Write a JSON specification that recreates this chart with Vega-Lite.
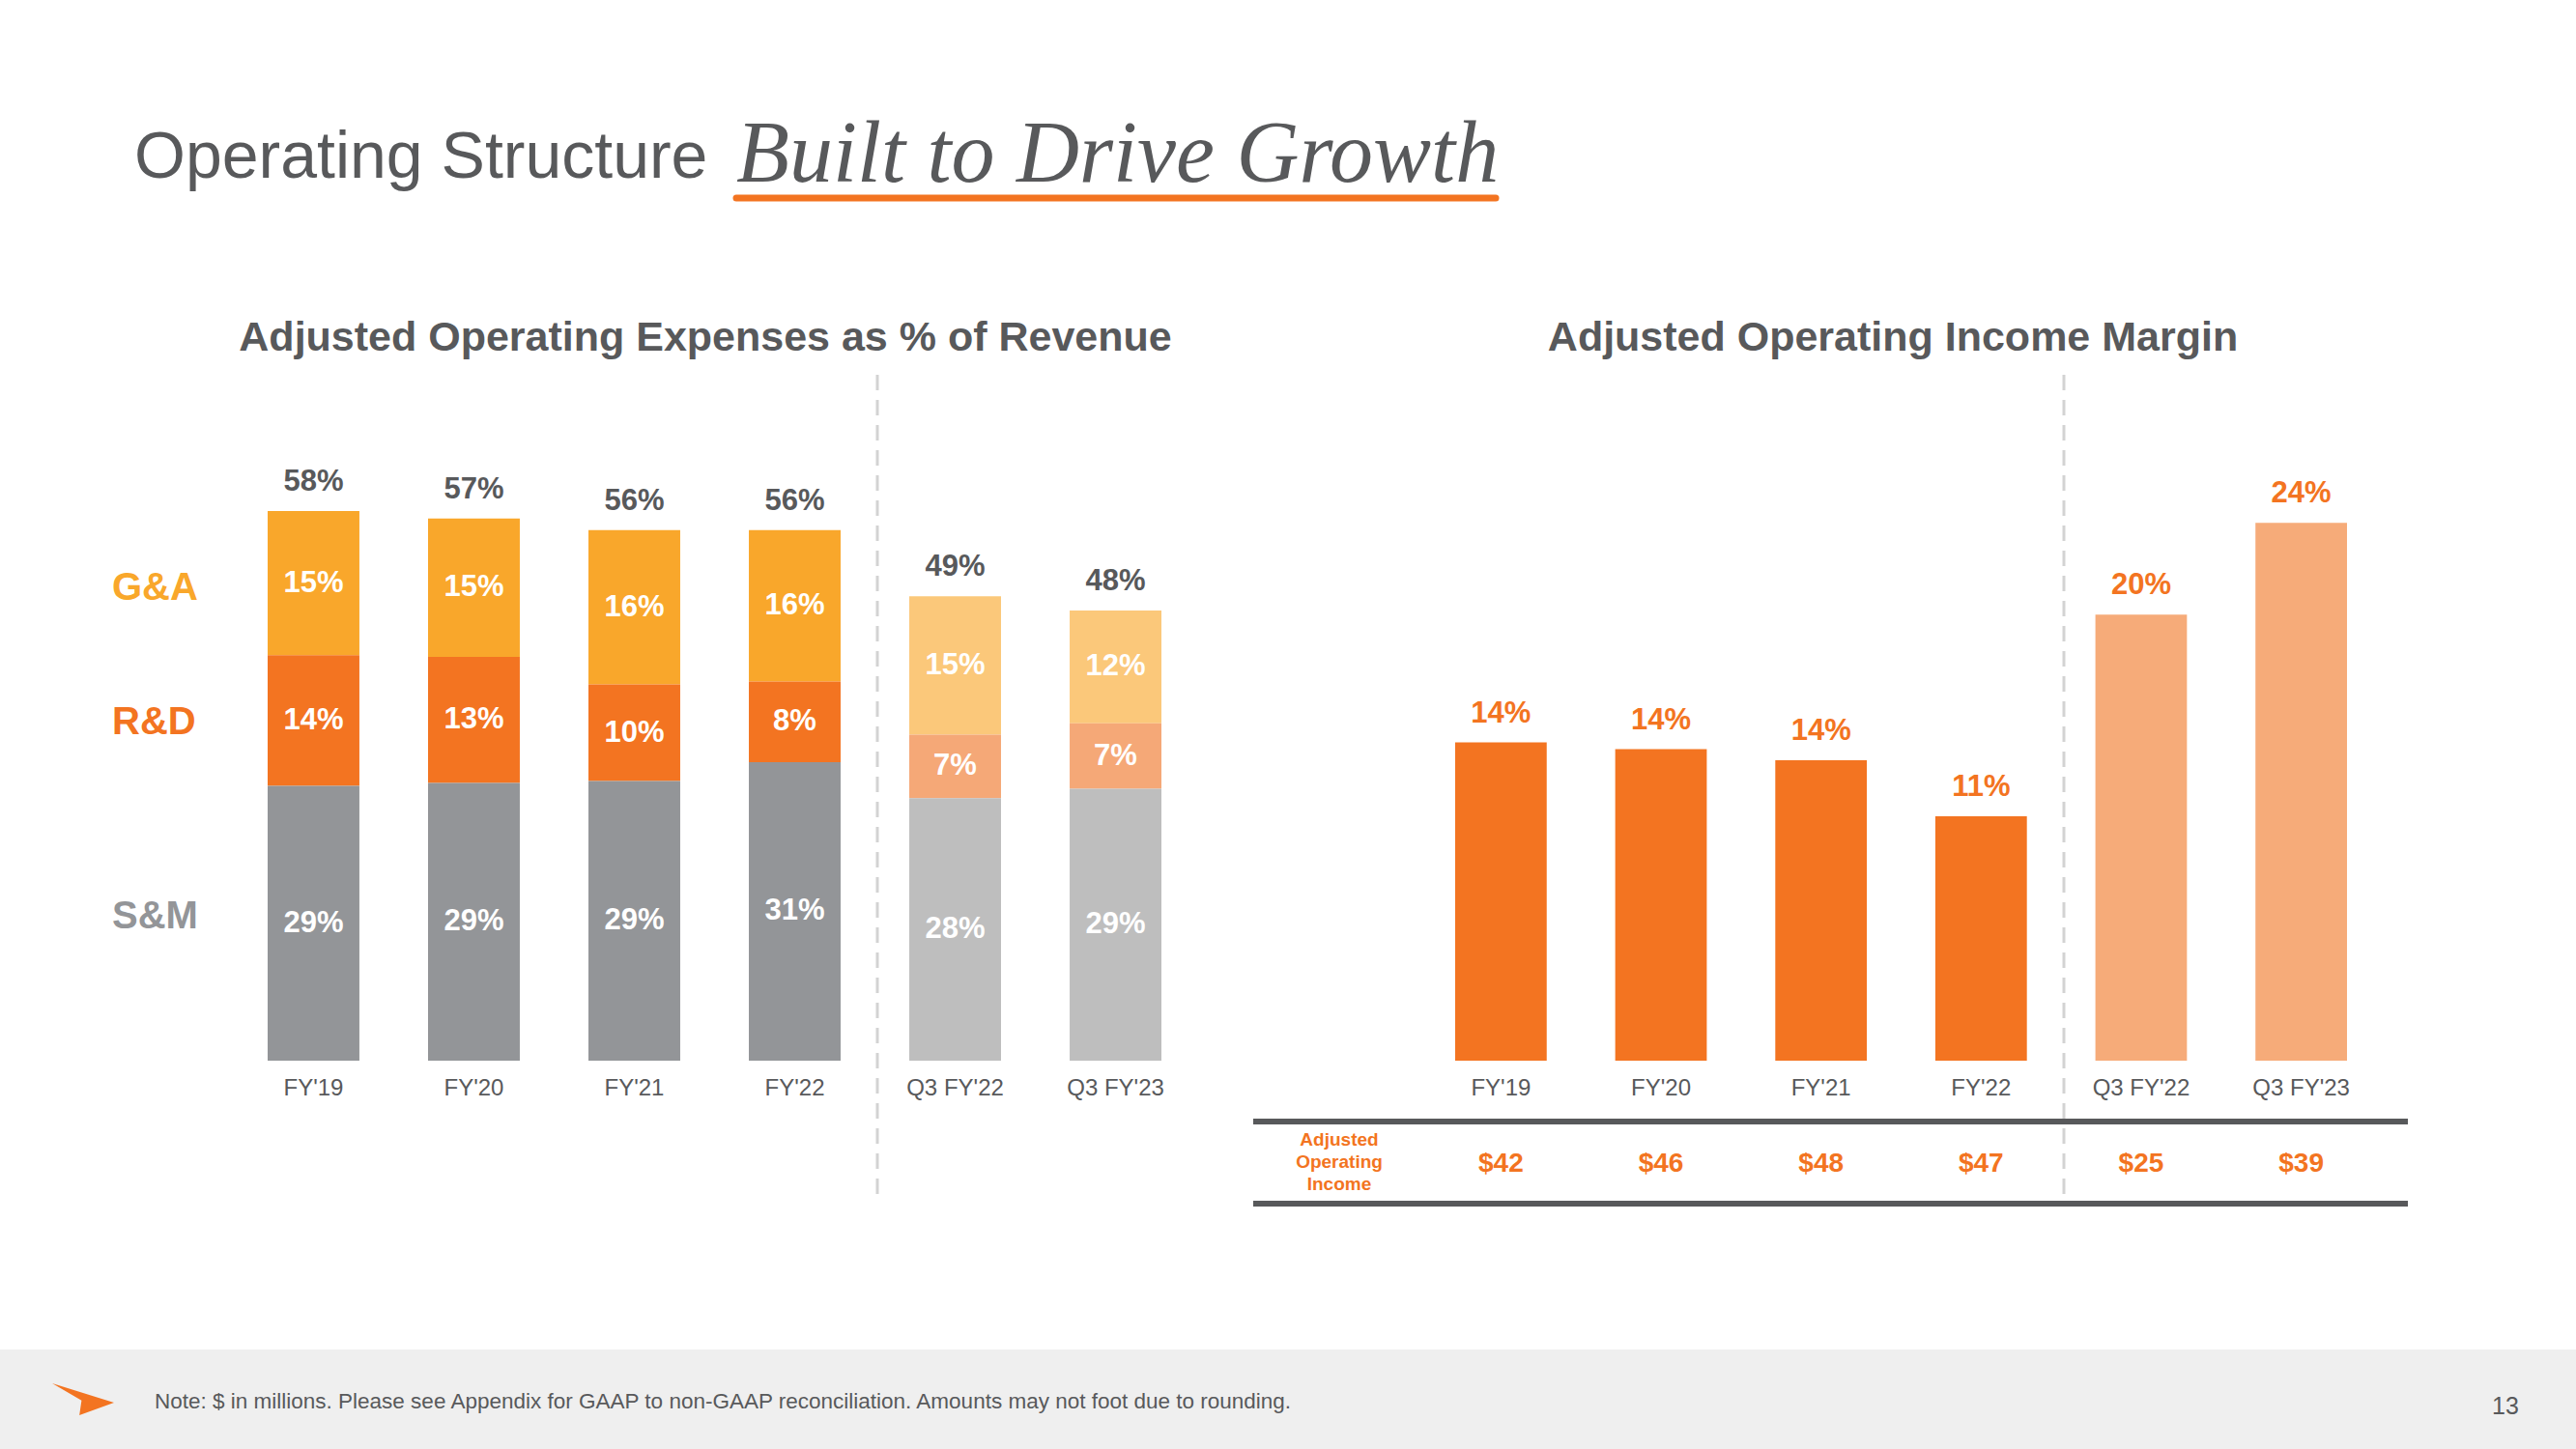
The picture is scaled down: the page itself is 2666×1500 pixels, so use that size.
{
  "$schema": "https://vega.github.io/schema/vega-lite/v6.json",
  "width": 2666,
  "height": 1500,
  "autosize": {"type": "fit", "contains": "padding"},
  "padding": 0,
  "background": "white",
  "config": {"view": {"stroke": null}, "font": "Liberation Sans"},
  "datasets": {
    "opex": [
      {"period": "FY'19", "cat": "G&A", "value": 15.2, "label": "15%", "total": "58%"},
      {"period": "FY'19", "cat": "R&D", "value": 13.8, "label": "14%", "total": "58%"},
      {"period": "FY'19", "cat": "S&M", "value": 29.0, "label": "29%", "total": "58%"},
      {"period": "FY'20", "cat": "G&A", "value": 14.6, "label": "15%", "total": "57%"},
      {"period": "FY'20", "cat": "R&D", "value": 13.3, "label": "13%", "total": "57%"},
      {"period": "FY'20", "cat": "S&M", "value": 29.3, "label": "29%", "total": "57%"},
      {"period": "FY'21", "cat": "G&A", "value": 16.3, "label": "16%", "total": "56%"},
      {"period": "FY'21", "cat": "R&D", "value": 10.2, "label": "10%", "total": "56%"},
      {"period": "FY'21", "cat": "S&M", "value": 29.5, "label": "29%", "total": "56%"},
      {"period": "FY'22", "cat": "G&A", "value": 16.0, "label": "16%", "total": "56%"},
      {"period": "FY'22", "cat": "R&D", "value": 8.5, "label": "8%", "total": "56%"},
      {"period": "FY'22", "cat": "S&M", "value": 31.5, "label": "31%", "total": "56%"},
      {"period": "Q3 FY'22", "cat": "G&A", "value": 14.6, "label": "15%", "total": "49%"},
      {"period": "Q3 FY'22", "cat": "R&D", "value": 6.7, "label": "7%", "total": "49%"},
      {"period": "Q3 FY'22", "cat": "S&M", "value": 27.7, "label": "28%", "total": "49%"},
      {"period": "Q3 FY'23", "cat": "G&A", "value": 11.9, "label": "12%", "total": "48%"},
      {"period": "Q3 FY'23", "cat": "R&D", "value": 6.9, "label": "7%", "total": "48%"},
      {"period": "Q3 FY'23", "cat": "S&M", "value": 28.7, "label": "29%", "total": "48%"}
    ],
    "margin": [
      {"period": "FY'19", "value": 14.2, "label": "14%", "income": "$42"},
      {"period": "FY'20", "value": 13.9, "label": "14%", "income": "$46"},
      {"period": "FY'21", "value": 13.4, "label": "14%", "income": "$48"},
      {"period": "FY'22", "value": 10.9, "label": "11%", "income": "$47"},
      {"period": "Q3 FY'22", "value": 19.9, "label": "20%", "income": "$25"},
      {"period": "Q3 FY'23", "value": 24.0, "label": "24%", "income": "$39"}
    ]
  },
  "layer": [
    {
      "data": {"values": [{}]},
      "mark": {"type": "rect", "fill": "#EFEFEF"},
      "encoding": {"x": {"value": 0}, "x2": {"value": 2666}, "y": {"value": 1397}, "y2": {"value": 1500}}
    },
    {
      "data": {"values": [{}]},
      "mark": {"type": "point", "filled": true, "fill": "#F37421", "opacity": 1, "strokeWidth": 0, "shape": "M -1 -0.53 L 1 0.09 L -0.12 0.5 L -0.05 0.02 Z", "size": 4096},
      "encoding": {"x": {"value": 86}, "y": {"value": 1449}}
    },
    {
      "data": {"values": [{}]},
      "mark": {"type": "text", "text": "Note: $ in millions. Please see Appendix for GAAP to non-GAAP reconciliation. Amounts may not foot due to rounding.", "align": "left", "baseline": "middle", "fontSize": 22.5, "fill": "#58595B"},
      "encoding": {"x": {"value": 160}, "y": {"value": 1451}}
    },
    {
      "data": {"values": [{}]},
      "mark": {"type": "text", "text": "13", "align": "center", "baseline": "middle", "fontSize": 25, "fill": "#58595B"},
      "encoding": {"x": {"value": 2593}, "y": {"value": 1456}}
    },
    {
      "data": {"values": [{}]},
      "mark": {"type": "text", "text": "Operating Structure", "align": "left", "baseline": "alphabetic", "fontSize": 68, "fill": "#58595B"},
      "encoding": {"x": {"value": 139}, "y": {"value": 184}}
    },
    {
      "data": {"values": [{}]},
      "mark": {"type": "text", "text": "Built to Drive Growth", "font": "Liberation Serif", "fontStyle": "italic", "align": "left", "baseline": "alphabetic", "fontSize": 90, "fill": "#58595B"},
      "encoding": {"x": {"value": 762}, "y": {"value": 188}}
    },
    {
      "data": {"values": [{}]},
      "mark": {"type": "rule", "stroke": "#F37421", "strokeWidth": 7, "strokeCap": "round"},
      "encoding": {"x": {"value": 762}, "x2": {"value": 1548}, "y": {"value": 205}}
    },
    {
      "data": {"values": [{}]},
      "mark": {"type": "text", "text": "Adjusted Operating Expenses as % of Revenue", "align": "center", "baseline": "alphabetic", "fontSize": 43, "fontWeight": "bold", "fill": "#58595B"},
      "encoding": {"x": {"value": 730}, "y": {"value": 363}}
    },
    {
      "data": {"values": [{}]},
      "mark": {"type": "text", "text": "Adjusted Operating Income Margin", "align": "center", "baseline": "alphabetic", "fontSize": 43, "fontWeight": "bold", "fill": "#58595B"},
      "encoding": {"x": {"value": 1959}, "y": {"value": 363}}
    },
    {
      "data": {"values": [{}]},
      "mark": {"type": "text", "text": "G&A", "align": "left", "baseline": "alphabetic", "fontSize": 40, "fontWeight": "bold", "fill": "#F9A72B"},
      "encoding": {"x": {"value": 116}, "y": {"value": 621}}
    },
    {
      "data": {"values": [{}]},
      "mark": {"type": "text", "text": "R&D", "align": "left", "baseline": "alphabetic", "fontSize": 40, "fontWeight": "bold", "fill": "#F37421"},
      "encoding": {"x": {"value": 116}, "y": {"value": 760}}
    },
    {
      "data": {"values": [{}]},
      "mark": {"type": "text", "text": "S&M", "align": "left", "baseline": "alphabetic", "fontSize": 40, "fontWeight": "bold", "fill": "#939598"},
      "encoding": {"x": {"value": 116}, "y": {"value": 961}}
    },
    {
      "data": {"values": [{}]},
      "mark": {"type": "rule", "stroke": "#D3D3D3", "strokeWidth": 3, "strokeDash": [16, 10]},
      "encoding": {"x": {"value": 908}, "y": {"value": 388}, "y2": {"value": 1246}}
    },
    {
      "data": {"values": [{}]},
      "mark": {"type": "rule", "stroke": "#D3D3D3", "strokeWidth": 3, "strokeDash": [16, 10]},
      "encoding": {"x": {"value": 2136}, "y": {"value": 388}, "y2": {"value": 1246}}
    },
    {
      "data": {"values": [{}]},
      "mark": {"type": "rule", "stroke": "#58595B", "strokeWidth": 6},
      "encoding": {"x": {"value": 1297}, "x2": {"value": 2492}, "y": {"value": 1161}}
    },
    {
      "data": {"values": [{}]},
      "mark": {"type": "rule", "stroke": "#58595B", "strokeWidth": 6},
      "encoding": {"x": {"value": 1297}, "x2": {"value": 2492}, "y": {"value": 1246}}
    },
    {
      "data": {"values": [{}]},
      "mark": {"type": "text", "text": ["Adjusted", "Operating", "Income"], "align": "center", "baseline": "middle", "lineHeight": 23, "fontSize": 19, "fontWeight": "bold", "fill": "#F37421"},
      "encoding": {"x": {"value": 1386}, "y": {"value": 1180}}
    },
    {
      "data": {"name": "opex"},
      "transform": [
        {"calculate": "indexof(datum.period, 'Q3') === 0 ? 'Q3' : 'FY'", "as": "kind"},
        {"calculate": "datum.cat + ' ' + datum.kind", "as": "key"},
        {"calculate": "indexof(['S&M', 'R&D', 'G&A'], datum.cat)", "as": "rank"}
      ],
      "encoding": {
        "x": {
          "field": "period", "type": "nominal", "axis": null,
          "scale": {"domain": ["FY'19", "FY'20", "FY'21", "FY'22", "Q3 FY'22", "Q3 FY'23"], "range": [277, 1202], "paddingInner": 0.428, "paddingOuter": 0}
        }
      },
      "layer": [
        {
          "mark": {"type": "bar"},
          "encoding": {
            "y": {"field": "value", "type": "quantitative", "stack": "zero", "axis": null, "scale": {"domain": [0, 60], "range": [1098, 509.4], "nice": false}},
            "color": {
              "field": "key", "type": "nominal", "legend": null,
              "scale": {
                "domain": ["G&A FY", "R&D FY", "S&M FY", "G&A Q3", "R&D Q3", "S&M Q3"],
                "range": ["#F9A72B", "#F37421", "#939598", "#FBC87A", "#F5A877", "#BEBEBE"]
              }
            },
            "order": {"field": "rank", "type": "quantitative"}
          }
        },
        {
          "transform": [
            {"stack": "value", "groupby": ["period"], "sort": [{"field": "rank", "order": "ascending"}], "as": ["v0", "v1"]},
            {"calculate": "(datum.v0 + datum.v1) / 2", "as": "mid"}
          ],
          "mark": {"type": "text", "align": "center", "baseline": "middle", "fontSize": 31, "fontWeight": "bold", "fill": "white"},
          "encoding": {
            "y": {"field": "mid", "type": "quantitative", "axis": null, "scale": {"domain": [0, 60], "range": [1098, 509.4], "nice": false}},
            "text": {"field": "label"}
          }
        },
        {
          "transform": [{"aggregate": [{"op": "sum", "field": "value", "as": "top"}], "groupby": ["period", "total"]}],
          "mark": {"type": "text", "align": "center", "baseline": "middle", "dy": -30, "fontSize": 31, "fontWeight": "bold", "fill": "#58595B"},
          "encoding": {
            "y": {"field": "top", "type": "quantitative", "axis": null, "scale": {"domain": [0, 60], "range": [1098, 509.4], "nice": false}},
            "text": {"field": "total"}
          }
        },
        {
          "transform": [{"aggregate": [], "groupby": ["period"]}],
          "mark": {"type": "text", "align": "center", "baseline": "middle", "fontSize": 24, "fill": "#58595B"},
          "encoding": {"y": {"value": 1127}, "text": {"field": "period"}}
        }
      ]
    },
    {
      "data": {"name": "margin"},
      "transform": [{"calculate": "indexof(datum.period, 'Q3') === 0 ? 'Q3' : 'FY'", "as": "kind"}],
      "encoding": {
        "x": {
          "field": "period", "type": "nominal", "axis": null,
          "scale": {"domain": ["FY'19", "FY'20", "FY'21", "FY'22", "Q3 FY'22", "Q3 FY'23"], "range": [1506, 2429], "paddingInner": 0.428, "paddingOuter": 0}
        }
      },
      "layer": [
        {
          "mark": {"type": "bar"},
          "encoding": {
            "y": {"field": "value", "type": "quantitative", "axis": null, "scale": {"domain": [0, 25], "range": [1098, 518], "nice": false}},
            "color": {"field": "kind", "type": "nominal", "legend": null, "scale": {"domain": ["FY", "Q3"], "range": ["#F37421", "#F6AB79"]}}
          }
        },
        {
          "mark": {"type": "text", "align": "center", "baseline": "middle", "dy": -30, "fontSize": 31, "fontWeight": "bold", "fill": "#F37421"},
          "encoding": {
            "y": {"field": "value", "type": "quantitative", "axis": null, "scale": {"domain": [0, 25], "range": [1098, 518], "nice": false}},
            "text": {"field": "label"}
          }
        },
        {
          "mark": {"type": "text", "align": "center", "baseline": "middle", "fontSize": 24, "fill": "#58595B"},
          "encoding": {"y": {"value": 1127}, "text": {"field": "period"}}
        },
        {
          "mark": {"type": "text", "align": "center", "baseline": "middle", "fontSize": 28, "fontWeight": "bold", "fill": "#F37421"},
          "encoding": {"y": {"value": 1205}, "text": {"field": "income"}}
        }
      ]
    }
  ],
  "resolve": {"scale": {"x": "independent", "y": "independent", "color": "independent"}}
}
